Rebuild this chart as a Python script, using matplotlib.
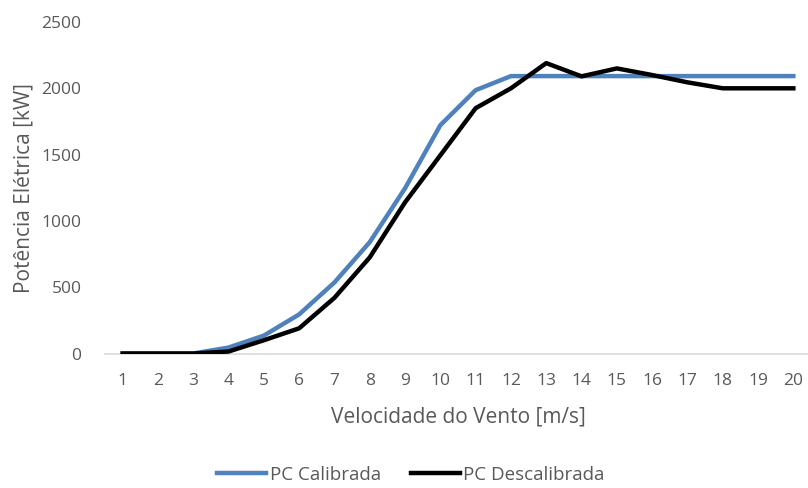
import matplotlib.pyplot as plt

plt.rcParams['font.family'] = ['Open Sans', 'DejaVu Sans']

# wind speed categories and power curves
velocidade = list(range(1, 21))
pc_calibrada = [0, 0, 0, 45, 135, 295, 536, 840, 1246, 1722,
                1986, 2092, 2092, 2092, 2092, 2092, 2092, 2092, 2092, 2092]
pc_descalibrada = [0, 0, 0, 15, 100, 190, 420, 725, 1140, 1495,
                   1850, 2000, 2190, 2090, 2150, 2100, 2045, 2000, 2000, 2000]
y_ticks = [0, 500, 1000, 1500, 2000, 2500]

grey = '#595959'

fig = plt.figure(figsize=(8.08, 4.88), dpi=100)
ax = fig.add_axes([105 / 808, 1 - 353.5 / 488, (811 - 105) / 808, (353.5 - 22) / 488])

ax.plot(velocidade, pc_calibrada, color='#4F81BD', linewidth=3.2,
        label='PC Calibrada', solid_joinstyle='round')
ax.plot(velocidade, pc_descalibrada, color='black', linewidth=3.2,
        label='PC Descalibrada', solid_joinstyle='round')

ax.set_xlim(0.5, 20.5)
ax.set_ylim(0, 2500)
ax.set_xticks(velocidade)
ax.set_yticks(y_ticks)
ax.tick_params(axis='both', length=0, labelsize=12.5, labelcolor=grey)
ax.tick_params(axis='x', pad=14)
ax.tick_params(axis='y', pad=17)

for side in ['top', 'right', 'left']:
    ax.spines[side].set_visible(False)
ax.spines['bottom'].set_color('#D9D9D9')
ax.spines['bottom'].set_linewidth(1.2)
ax.spines['bottom'].set_zorder(0)

ax.set_xlabel('Velocidade do Vento [m/s]', fontsize=15, color=grey, labelpad=13)
ax.set_ylabel('Potência Elétrica [kW]', fontsize=15, color=grey, labelpad=5)

leg = fig.legend(loc='center', bbox_to_anchor=(411 / 808, 1 - 475 / 488), ncol=2,
                 frameon=False, fontsize=13.5, handlelength=2.6, columnspacing=1.6,
                 handletextpad=0.2)
for t in leg.get_texts():
    t.set_color(grey)

fig.savefig('out.png', dpi=100)
